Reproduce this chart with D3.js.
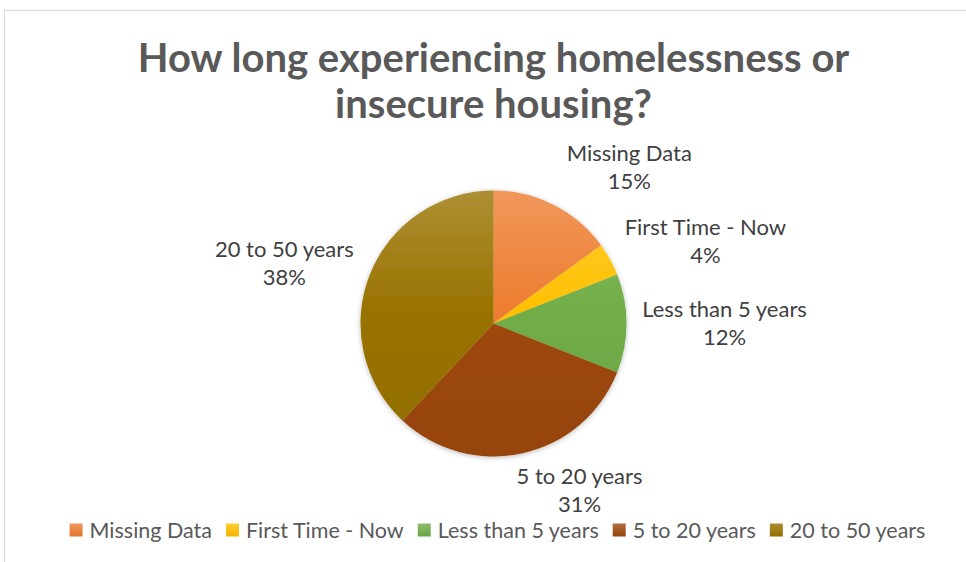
<!DOCTYPE html>
<html>
<head>
<meta charset="utf-8">
<script src="https://cdn.jsdelivr.net/npm/d3@7"></script>
<style>
  html, body { margin: 0; padding: 0; background: #ffffff; }
  svg { display: block; }
</style>
</head>
<body>
<svg id="chart" width="966" height="562"></svg>
<script>
// Duration of homelessness or insecure housing, share of respondents
const categories = ["Missing Data", "First Time - Now", "Less than 5 years", "5 to 20 years", "20 to 50 years"];
const shares = [15, 4, 12, 31, 38];
const percentLabels = ["15%", "4%", "12%", "31%", "38%"];
const titleLines = ["How long experiencing homelessness or", "insecure housing?"];

const baseColors = ["#ED7D31", "#FFC000", "#70AD47", "#9E480E", "#997300"];

const W = 966, H = 562;
const cx = 493.5, cy = 323.5, R = 133;
const FONT = "Lato, 'Open Sans', 'Liberation Sans', sans-serif";

const svg = d3.select("#chart");
const defs = svg.append("defs");

// chart-area frame
svg.append("rect")
  .attr("x", 4.5).attr("y", 10.5)
  .attr("width", W + 20).attr("height", H + 20)
  .attr("fill", "#ffffff").attr("stroke", "#d9d9d9").attr("stroke-width", 1.2);

// soft shadow under the pie
const shadow = defs.append("filter").attr("id", "pieShadow")
  .attr("x", "-10%").attr("y", "-10%").attr("width", "120%").attr("height", "120%");
shadow.append("feDropShadow")
  .attr("dx", 0).attr("dy", 1).attr("stdDeviation", 2.5)
  .attr("flood-color", "#000000").attr("flood-opacity", 0.28);

const color = d3.scaleOrdinal().domain(categories).range(baseColors);
const lightOf = c => d3.interpolateRgb(c, "#ffffff")(0.2);
const darkOf = c => d3.color(c).darker(0.15);

// vertical light-to-base gradient per slice, spanning the whole pie height
categories.forEach((c, i) => {
  const g = defs.append("linearGradient")
    .attr("id", "grad" + i)
    .attr("gradientUnits", "userSpaceOnUse")
    .attr("x1", 0).attr("y1", -R).attr("x2", 0).attr("y2", R);
  g.append("stop").attr("offset", "0%").attr("stop-color", lightOf(color(c)));
  g.append("stop").attr("offset", "45%").attr("stop-color", color(c));
  g.append("stop").attr("offset", "100%").attr("stop-color", darkOf(color(c)));

  const lg = defs.append("linearGradient").attr("id", "legGrad" + i)
    .attr("x1", 0).attr("y1", 0).attr("x2", 0).attr("y2", 1);
  lg.append("stop").attr("offset", "0%").attr("stop-color", lightOf(color(c)));
  lg.append("stop").attr("offset", "100%").attr("stop-color", darkOf(color(c)));
});

// title
const title = svg.append("text")
  .attr("text-anchor", "middle")
  .attr("font-family", FONT)
  .attr("font-weight", "bold")
  .attr("font-size", 40)
  .attr("fill", "#595959");
titleLines.forEach((t, i) => {
  title.append("tspan").attr("x", cx).attr("y", 72 + i * 46).text(t);
});

// pie
const pie = d3.pie().sort(null).value(d => d.value);
const arcs = pie(categories.map((c, i) => ({ name: c, value: shares[i], label: percentLabels[i], i })));
const arc = d3.arc().innerRadius(0).outerRadius(R);

const pieG = svg.append("g")
  .attr("transform", `translate(${cx},${cy})`);
pieG.append("g").attr("filter", "url(#pieShadow)")
  .selectAll("path")
  .data(arcs)
  .join("path")
  .attr("d", arc)
  .attr("fill", d => `url(#grad${d.data.i})`)
  .attr("stroke", "none");

// outside "best fit" data labels: radial placement plus a per-label nudge
const labelRadius = R + 78;
const labelNudge = [[40, 40], [27, 27], [20, 7], [40, -31], [-13, 25]];
const labels = pieG.selectAll("g.lbl")
  .data(arcs)
  .join("g")
  .attr("class", "lbl")
  .attr("transform", d => {
    const a = (d.startAngle + d.endAngle) / 2;
    const x = Math.sin(a) * labelRadius + labelNudge[d.data.i][0];
    const y = -Math.cos(a) * labelRadius + labelNudge[d.data.i][1];
    return `translate(${x},${y})`;
  });
labels.append("text")
  .attr("text-anchor", "middle")
  .attr("font-family", FONT)
  .attr("font-size", 22)
  .attr("fill", "#404040")
  .each(function (d) {
    const t = d3.select(this);
    t.append("tspan").attr("x", 0).attr("y", -14).text(d.data.name);
    t.append("tspan").attr("x", 0).attr("y", 14).text(d.data.label);
  });

// legend: swatch + text, laid out left to right and centred under the pie
const legend = svg.append("g").attr("transform", "translate(0,537.5)");
const legendItems = legend.selectAll("g")
  .data(categories)
  .join("g");
legendItems.append("rect")
  .attr("x", 0).attr("y", -14).attr("width", 13).attr("height", 13)
  .attr("fill", (d, i) => `url(#legGrad${i})`);
legendItems.append("text")
  .attr("x", 20).attr("y", 0)
  .attr("font-family", FONT)
  .attr("font-size", 21.5)
  .attr("fill", "#595959")
  .text(d => d);

const itemGap = 14;
const widths = [];
legendItems.select("text").each(function () { widths.push(20 + this.getComputedTextLength()); });
const total = d3.sum(widths) + itemGap * (widths.length - 1);
let xPos = 497.5 - total / 2;
legendItems.attr("transform", (d, i) => {
  const x = xPos;
  xPos += widths[i] + itemGap;
  return `translate(${x},0)`;
});
</script>
</body>
</html>
